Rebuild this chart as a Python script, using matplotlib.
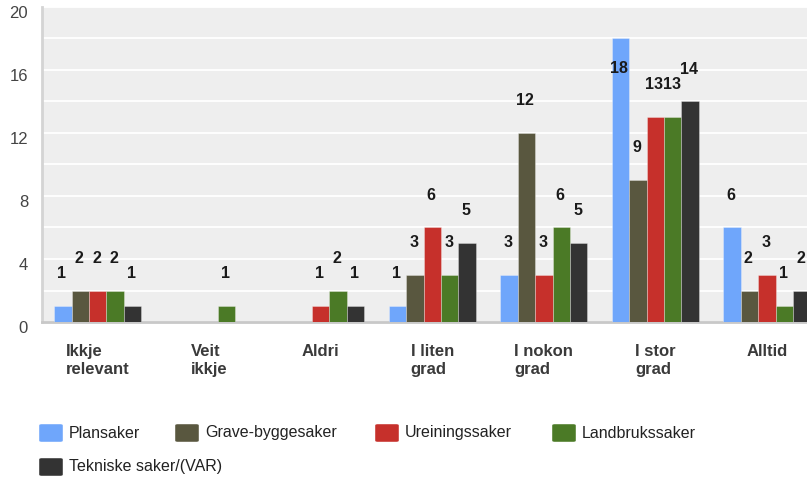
import matplotlib
matplotlib.use("Agg")
import matplotlib.pyplot as plt
import numpy as np
from matplotlib import font_manager
from matplotlib.transforms import ScaledTranslation
from matplotlib.patches import FancyBboxPatch

categories = ["Ikkje\nrelevant", "Veit\nikkje", "Aldri", "I liten\ngrad",
              "I nokon\ngrad", "I stor\ngrad", "Alltid"]
series_names = ["Plansaker", "Grave-byggesaker", "Ureiningssaker",
                "Landbrukssaker", "Tekniske saker/(VAR)"]
plansaker = [1, 0, 0, 1, 3, 18, 6]
grave_byggesaker = [2, 0, 0, 3, 12, 9, 2]
ureiningssaker = [2, 0, 1, 6, 3, 13, 3]
landbrukssaker = [2, 1, 2, 3, 6, 13, 1]
tekniske_saker = [1, 0, 1, 5, 5, 14, 2]
series_values = [plansaker, grave_byggesaker, ureiningssaker,
                 landbrukssaker, tekniske_saker]
colors = ["#6fa6fb", "#59573f", "#c6302b", "#4b7a26", "#333333"]
yticks = [0, 4, 8, 12, 16, 20]

names = {f.name for f in font_manager.fontManager.ttflist}
base_font = "Liberation Sans" if "Liberation Sans" in names else "DejaVu Sans"
plt.rcParams["font.family"] = [base_font, "DejaVu Sans"]

W, H = 807, 479
fig = plt.figure(figsize=(W / 100, H / 100), dpi=100)
left = 42 / W
bottom = (H - 322) / H
top = (H - 7) / H
ax = fig.add_axes([left, bottom, 1 - left, top - bottom])
ax.set_facecolor("#eeeeee")

n = len(series_values)
x = np.arange(len(categories))
bw = 0.156
for i, (vals, col) in enumerate(zip(series_values, colors)):
    pos = x + (i - (n - 1) / 2) * bw
    ax.bar(pos, vals, width=bw, color=col, edgecolor=(1, 1, 1, 0.35),
           linewidth=0.6, zorder=3)
    for px, v in zip(pos, vals):
        if v == 0:
            continue
        ly = v + 2.05 if v + 2.05 <= 17 else v - 1.9
        ax.text(px - 0.01, ly, str(v), ha="center", va="center",
                fontsize=11.5, fontweight="bold", color="#1a1a1a", zorder=4)

ax.set_xlim(-0.5, 6.36)
ax.set_ylim(0, 20)
ax.set_yticks(yticks)
ax.set_yticks(np.arange(2, 20, 4), minor=True)
ax.yaxis.grid(True, which="both", color="white", linewidth=1.3, zorder=1)
ax.set_axisbelow(True)
ax.tick_params(axis="y", which="both", length=0, pad=10, labelsize=12,
               labelcolor="#444444")
off = ScaledTranslation(0, -0.05, fig.dpi_scale_trans)
for lab in ax.get_yticklabels():
    lab.set_transform(lab.get_transform() + off)

ax.set_xticks(x)
ax.set_xticklabels(categories, fontsize=12, fontweight="bold", color="#3a3a3a",
                   multialignment="left", va="top")
ax.tick_params(axis="x", length=0, pad=16)

for s in ["top", "right"]:
    ax.spines[s].set_visible(False)
ax.spines["left"].set_color("#d4d4d4")
ax.spines["left"].set_linewidth(2)
ax.spines["bottom"].set_color("#c8c8c8")
ax.spines["bottom"].set_linewidth(2)

# legend laid out as in the reference (flow layout, two rows)
legend_slots = [(39, 433), (175, 433), (375, 433), (552, 433), (39, 467)]
sq_w, sq_h = 24, 18
for (lx, ly), name, col in zip(legend_slots, series_names, colors):
    fig.patches.append(FancyBboxPatch(
        (lx / W, (H - ly - sq_h / 2) / H), sq_w / W, sq_h / H,
        boxstyle="round,pad=0,rounding_size=0.003", transform=fig.transFigure,
        facecolor=col, edgecolor=(1, 1, 1, 0.5), linewidth=0.6, figure=fig))
    fig.text((lx + sq_w + 6) / W, (H - ly) / H, name, fontsize=11.5,
             color="#222222", ha="left", va="center")

fig.savefig("out.png", dpi=100)
